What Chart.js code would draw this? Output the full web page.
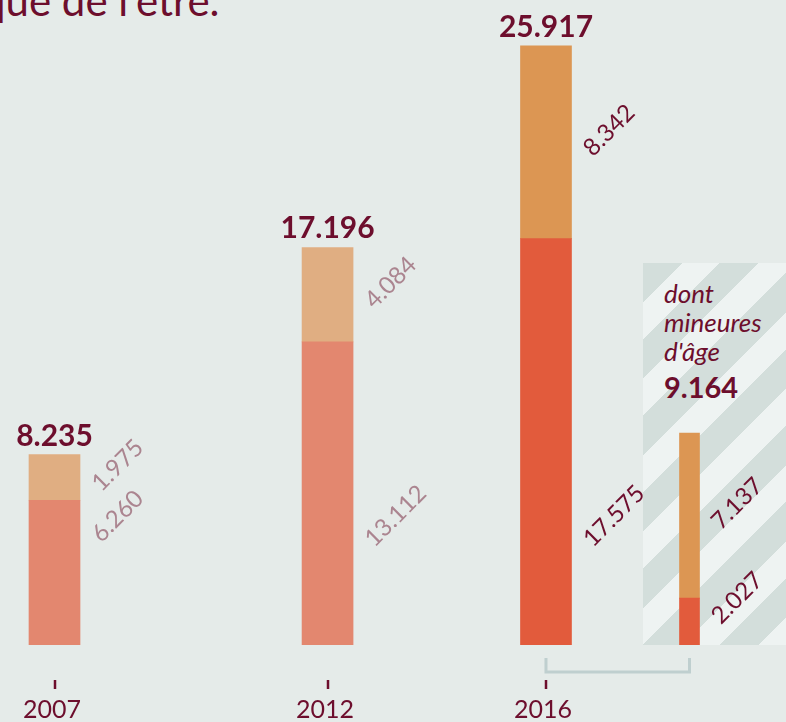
<!DOCTYPE html>
<html>
<head>
<meta charset="utf-8">
<script src="https://cdn.jsdelivr.net/npm/chart.js@4.4.1/dist/chart.umd.min.js"></script>
<style>
  html, body { margin: 0; padding: 0; }
  body { width: 786px; height: 722px; background: #e5ebe9; position: relative; overflow: hidden; font-family: Lato, sans-serif; }
  #title { position: absolute; left: -18px; top: -21px; font-size: 42px; line-height: 42px; color: #6d0e2d; white-space: nowrap; }
  #hatch { position: absolute; left: 643px; top: 263px; width: 143px; height: 382px;
    background: repeating-linear-gradient(135deg, #d3dedb 0 28px, #eef3f2 28px 54px); }
  #minorsText { position: absolute; left: 664px; top: 279px; color: #6d0e2d; }
  #minorsText .it { font-style: italic; font-size: 26px; line-height: 29px; }
  #minorsText .tot { font-weight: bold; font-size: 29px; line-height: 38px; margin-top: 2px; }
  canvas { position: absolute; left: 0; top: 0; }
</style>
</head>
<body>
<div id="title">que de l'être.</div>
<div id="hatch"></div>
<div id="minorsText">
  <div class="it">dont</div>
  <div class="it">mineures</div>
  <div class="it">d'âge</div>
  <div class="tot" id="minorsTotal"></div>
</div>
<canvas id="main" width="786" height="722"></canvas>
<canvas id="minors" width="786" height="722"></canvas>
<script>
const years = [2007, 2012, 2016];
const lowerValues = [6260, 13112, 17575];
const upperValues = [1975, 4084, 8342];
const minorsLower = [2027];
const minorsUpper = [7137];

const maroon = '#6d0e2d';
const mutedLabel = '#ab8590';
const fmt = v => v.toLocaleString('de-DE');

document.getElementById('minorsTotal').textContent = fmt(minorsLower[0] + minorsUpper[0]);

// totals above bars and rotated segment values
function drawBarLabels(chart, colors, showTotals) {
  const ctx = chart.ctx;
  const lowMeta = chart.getDatasetMeta(0);
  const upMeta = chart.getDatasetMeta(1);
  const bottom = chart.chartArea.bottom;
  ctx.save();
  lowMeta.data.forEach((low, i) => {
    const up = upMeta.data[i];
    const lv = chart.data.datasets[0].data[i];
    const uv = chart.data.datasets[1].data[i];
    const lval = typeof lv === 'object' ? lv.y : lv;
    const uval = typeof uv === 'object' ? uv.y : uv;
    if (showTotals) {
      ctx.fillStyle = maroon;
      ctx.font = 'bold 30px Lato';
      ctx.textAlign = 'center';
      ctx.textBaseline = 'alphabetic';
      ctx.fillText(fmt(lval + uval), up.x, up.y - 9);
    }
    const right = low.x + low.width / 2;
    const upperY = (up.y + up.base) / 2 - 12;
    const lowerY = Math.min(Math.max(low.y + 16, bottom - 129), bottom - 47);
    [[fmt(uval), upperY], [fmt(lval), lowerY]].forEach(([txt, cy]) => {
      ctx.font = '24px Lato';
      const w = ctx.measureText(txt).width;
      const cx = right + 16 + w / 2 * Math.SQRT1_2;
      ctx.save();
      ctx.translate(cx, cy);
      ctx.rotate(-Math.PI / 4);
      ctx.fillStyle = colors[i];
      ctx.textAlign = 'center';
      ctx.textBaseline = 'middle';
      ctx.fillText(txt, 0, 0);
      ctx.restore();
    });
  });
  ctx.restore();
}

const mainChart = new Chart(document.getElementById('main'), {
  type: 'bar',
  data: {
    datasets: [
      {
        data: years.map((y, i) => ({ x: y, y: lowerValues[i] })),
        backgroundColor: ['#e3876f', '#e3876f', '#e25b3c'],
        barThickness: 51
      },
      {
        data: years.map((y, i) => ({ x: y, y: upperValues[i] })),
        backgroundColor: ['#e0ae82', '#e0ae82', '#dc9653'],
        barThickness: 51
      }
    ]
  },
  options: {
    responsive: false,
    animation: false,
    layout: { padding: 0 },
    plugins: { legend: { display: false }, tooltip: { enabled: false } },
    scales: {
      x: {
        type: 'linear',
        stacked: true,
        offset: false,
        min: 2006.002,
        max: 2020.395,
        afterBuildTicks: s => { s.ticks = years.map(v => ({ value: v })); },
        afterFit: s => { s.height = 77; },
        grid: { display: false, drawTicks: false },
        border: { display: false },
        ticks: { display: false }
      },
      y: { stacked: true, display: false, min: 0, max: 27900 }
    }
  },
  plugins: [{
    id: 'labels',
    afterDatasetsDraw(chart) {
      drawBarLabels(chart, [mutedLabel, mutedLabel, maroon], true);
      // year ticks and labels under the bars
      const ctx = chart.ctx;
      const b = chart.chartArea.bottom;
      ctx.save();
      ctx.strokeStyle = maroon;
      ctx.fillStyle = maroon;
      ctx.lineWidth = 2.5;
      ctx.font = '25px Lato';
      ctx.textAlign = 'center';
      ctx.textBaseline = 'alphabetic';
      chart.scales.x.ticks.forEach(t => {
        const x = Math.round(chart.scales.x.getPixelForValue(t.value));
        ctx.beginPath();
        ctx.moveTo(x, b + 35);
        ctx.lineTo(x, b + 44);
        ctx.stroke();
        ctx.fillText(String(t.value), x - 3, b + 73);
      });
      ctx.restore();
    }
  }]
});

new Chart(document.getElementById('minors'), {
  type: 'bar',
  data: {
    labels: ['mineurs'],
    datasets: [
      { data: minorsLower, backgroundColor: '#e25b3c', barThickness: 20 },
      { data: minorsUpper, backgroundColor: '#dc9653', barThickness: 20 }
    ]
  },
  options: {
    responsive: false,
    animation: false,
    layout: { padding: { left: 643, right: 50, top: 0, bottom: 77 } },
    plugins: { legend: { display: false }, tooltip: { enabled: false } },
    scales: {
      x: { stacked: true, display: false },
      y: { stacked: true, display: false, min: 0, max: 27900 }
    }
  },
  plugins: [{
    id: 'minorLabels',
    afterDatasetsDraw(chart) {
      drawBarLabels(chart, [maroon], false);
      // bracket linking 2016 to the minors bar
      const ctx = chart.ctx;
      const b = chart.chartArea.bottom;
      const x0 = mainChart.scales.x.getPixelForValue(2016);
      const x1 = chart.getDatasetMeta(0).data[0].x;
      ctx.save();
      ctx.strokeStyle = '#bfcfcf';
      ctx.lineWidth = 3;
      ctx.beginPath();
      ctx.moveTo(x0, b + 13);
      ctx.lineTo(x0, b + 27);
      ctx.lineTo(x1, b + 27);
      ctx.lineTo(x1, b + 13);
      ctx.stroke();
      ctx.restore();
    }
  }]
});
</script>
</body>
</html>
